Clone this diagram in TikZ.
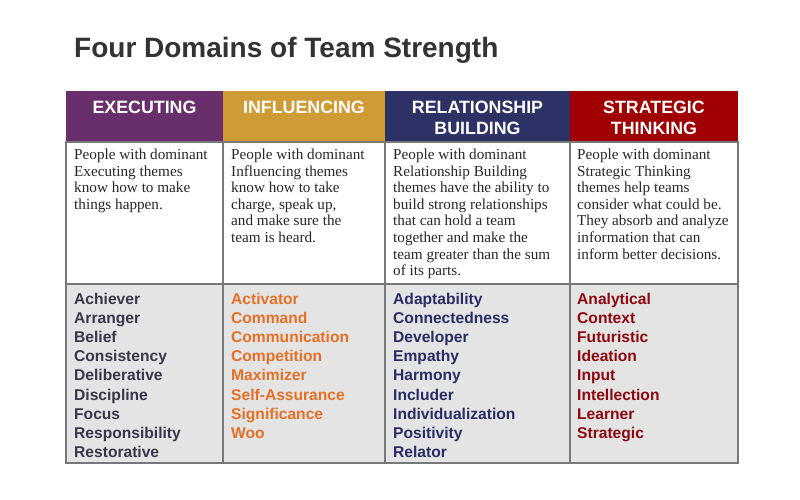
\documentclass[tikz,border=0pt]{standalone}
\usepackage{fontspec}
\setmainfont{Liberation Sans}
\newfontfamily\descfont{Liberation Serif}
\definecolor{execC}{RGB}{105,46,108}
\definecolor{inflC}{RGB}{207,155,52}
\definecolor{relC}{RGB}{46,49,102}
\definecolor{stratC}{RGB}{160,0,2}
\definecolor{execT}{RGB}{55,55,75}
\definecolor{inflT}{RGB}{228,112,38}
\definecolor{relT}{RGB}{40,45,100}
\definecolor{stratT}{RGB}{140,8,14}
\definecolor{listbg}{RGB}{228,228,228}
\definecolor{gridC}{RGB}{120,120,120}
\definecolor{titleC}{RGB}{51,51,51}
\definecolor{descT}{RGB}{40,40,40}
\tikzset{
  headtext/.style={anchor=north, align=center, inner sep=0pt, text=white,
    font=\fontsize{17.8}{21}\selectfont\bfseries},
  desctext/.style={anchor=north west, align=left, inner sep=0pt, text=descT,
    font=\descfont\fontsize{15.2}{16.6}\selectfont},
  listtext/.style={anchor=north west, align=left, inner sep=0pt,
    font=\fontsize{15.6}{19.2}\selectfont\bfseries},
  gridline/.style={draw=gridC, line width=1.4pt}
}
\begin{document}
\begin{tikzpicture}[x=1pt,y=-1pt]
\useasboundingbox (0,0) rectangle (800,500);
\fill[white] (0,0) rectangle (800,500);
% title
\node[anchor=base west, inner sep=0pt, text=titleC, font=\fontsize{28}{32}\selectfont\bfseries] (title) at (74,58) {Four Domains of Team Strength};
% header fills
\fill[execC] (66,91) rectangle (223,142);
\fill[inflC] (223,91) rectangle (385,142);
\fill[relC] (385,91) rectangle (570,142);
\fill[stratC] (570,91) rectangle (738,142);
% list background
\fill[listbg] (66,284) rectangle (738,463);
% grid
\draw[gridline] (66,142) rectangle (738,463);
\draw[gridline] (66,284) -- (738,284);
\draw[gridline] (223,142) -- (223,463);
\draw[gridline] (385,142) -- (385,463);
\draw[gridline] (570,142) -- (570,463);
% headers
\node[headtext] (hexec) at (144.5,101) {EXECUTING};
\node[headtext] (hinfl) at (304,101) {INFLUENCING};
\node[headtext] (hrel) at (477.5,101) {RELATIONSHIP\\BUILDING};
\node[headtext] (hstrat) at (654,101) {STRATEGIC\\THINKING};
% descriptions
\node[desctext] (dexec) at (74,148.8) {People with dominant\\Executing themes\\know how to make\\things happen.};
\node[desctext] (dinfl) at (231,148.8) {People with dominant\\Influencing themes\\know how to take\\charge, speak up,\\and make sure the\\team is heard.};
\node[desctext] (drel) at (393,148.8) {People with dominant\\Relationship Building\\themes have the ability to\\build strong relationships\\that can hold a team\\together and make the\\team greater than the sum\\of its parts.};
\node[desctext] (dstrat) at (577,148.8) {People with dominant\\Strategic Thinking\\themes help teams\\consider what could be.\\They absorb and analyze\\information that can\\inform better decisions.};
% lists
\node[listtext, text=execT] (lexec) at (74,292.5) {Achiever\\Arranger\\Belief\\Consistency\\Deliberative\\Discipline\\Focus\\Responsibility\\Restorative};
\node[listtext, text=inflT] (linfl) at (231,292.5) {Activator\\Command\\Communication\\Competition\\Maximizer\\Self-Assurance\\Significance\\Woo};
\node[listtext, text=relT] (lrel) at (393,292.5) {Adaptability\\Connectedness\\Developer\\Empathy\\Harmony\\Includer\\Individualization\\Positivity\\Relator};
\node[listtext, text=stratT] (lstrat) at (577,292.5) {Analytical\\Context\\Futuristic\\Ideation\\Input\\Intellection\\Learner\\Strategic};
\end{tikzpicture}
\end{document}
